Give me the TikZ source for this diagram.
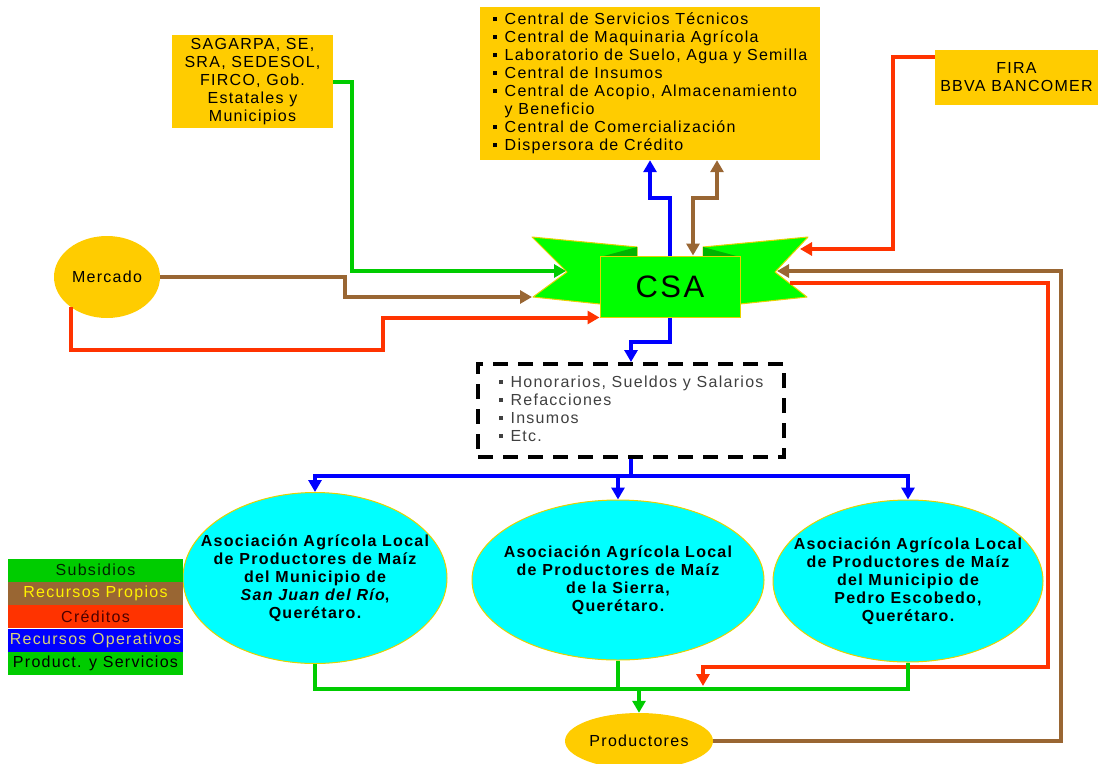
\documentclass[tikz,border=0pt]{standalone}
\usepackage{fontspec}
\setmainfont{Liberation Sans}[LetterSpace=8]
\usepackage{tikz}
\usetikzlibrary{arrows.meta, positioning, shapes.geometric}

\definecolor{gold}{HTML}{FFCC00}
\definecolor{csagreen}{HTML}{00FF00}
\definecolor{folddark}{HTML}{00B400}
\definecolor{edgeyellow}{HTML}{E6D200}
\definecolor{cyanfill}{HTML}{00FFFF}
\definecolor{flowgreen}{HTML}{00CC00}
\definecolor{flowbrown}{HTML}{996633}
\definecolor{flowred}{HTML}{FF3300}
\definecolor{flowblue}{HTML}{0000FF}
\newcommand{\sqb}{\rule[3pt]{4pt}{4pt}}

\begin{document}
\begin{tikzpicture}[
        x=1pt, y=-1pt,
        font=\fontsize{16}{18}\selectfont,
        ybox/.style={rectangle, fill=gold, inner sep=0pt, align=center},
        yoval/.style={ellipse, fill=gold, inner sep=0pt},
        asoc/.style={ellipse, fill=cyanfill, draw=edgeyellow, line width=1pt, inner xsep=-30pt, inner ysep=0pt,
                     align=center, font=\fontsize{16}{18}\selectfont\bfseries},
        legend/.style={rectangle, minimum width=175pt, minimum height=23pt, inner sep=0pt},
        flow/.style={line width=4pt},
        flowarrow/.style={flow, -{Triangle[length=12pt,width=13pt]}},
        wing/.style={fill=csagreen, draw=edgeyellow, line width=1pt, line join=round}
    ]
        \useasboundingbox (0,0) rectangle (1102,763);

        % fuentes de recursos
        \node[ybox, minimum width=161pt, minimum height=93pt] (sagarpa) at (252.5,81.5)
            {SAGARPA, SE,\\SRA, SEDESOL,\\FIRCO, Gob.\\Estatales y\\Municipios};
        \node[ybox, minimum width=340pt, minimum height=153pt] (central) at (650,83.5) {%
            \begin{tabular}{@{}l@{\hspace{8pt}}l@{}}
            \sqb & Central de Servicios Técnicos\\
            \sqb & Central de Maquinaria Agrícola\\
            \sqb & Laboratorio de Suelo, Agua y Semilla\\
            \sqb & Central de Insumos\\
            \sqb & Central de Acopio, Almacenamiento\\
                 & y Beneficio\\
            \sqb & Central de Comercialización\\
            \sqb & Dispersora de Crédito
            \end{tabular}};
        \node[ybox, minimum width=163pt, minimum height=55pt] (fira) at (1016.5,77.5) {FIRA\\BBVA BANCOMER};
        \node[yoval, minimum width=106pt, minimum height=82pt] (mercado) at (107,277) {Mercado};

        % CSA
        \draw[wing] (532,237) -- (637,247) -- (637,300) -- (600,304) -- (533,297) -- (567,272) -- cycle;
        \draw[wing] (808,237) -- (703,247) -- (703,300) -- (740,304) -- (807,297) -- (775,272) -- cycle;
        \fill[folddark] (600,257) -- (637,247) -- (637,257) -- cycle;
        \fill[folddark] (703,247) -- (740,257) -- (703,257) -- cycle;
        \node[rectangle, fill=csagreen, draw=edgeyellow, line width=1pt, minimum width=140pt,
              minimum height=61pt, font=\fontsize{31}{31}\selectfont] (csa) at (670,286.5) {CSA};
        \coordinate (lnotch) at (566,271);
        \coordinate (lbottom) at (532,297);
        \coordinate (rtop) at (800,249);
        \coordinate (rnotch) at (777,271);
        \coordinate (rout) at (790,283);

        \node[rectangle, draw=black, line width=4pt, dash pattern=on 15pt off 10pt,
              minimum width=306pt, minimum height=93pt, inner sep=0pt, text=black!75] (gastos) at (631,410.5) {%
            \begin{tabular}{@{}l@{\hspace{8pt}}l@{}}
            \sqb & Honorarios, Sueldos y Salarios\\
            \sqb & Refacciones\\
            \sqb & Insumos\\
            \sqb & Etc.
            \end{tabular}};

        % asociaciones locales
        \node[asoc, minimum width=264pt, minimum height=171pt] (sanjuan) at (315,578)
            {Asociación Agrícola Local\\de Productores de Maíz\\del Municipio de\\\textit{San Juan del Río},\\Querétaro.};
        \node[asoc, minimum width=292pt, minimum height=160pt] (sierra) at (618,580)
            {Asociación Agrícola Local\\de Productores de Maíz\\de la Sierra,\\Querétaro.};
        \node[asoc, minimum width=270pt, minimum height=162pt] (escobedo) at (908,581)
            {Asociación Agrícola Local\\de Productores de Maíz\\del Municipio de\\Pedro Escobedo,\\Querétaro.};
        \node[yoval, minimum width=148pt, minimum height=56pt] (productores) at (639,741) {Productores};
        \coordinate (gjoin) at (639,688);
        \coordinate (rin) at (703,686);

        % leyenda
        \node[legend, fill=flowgreen, text=black!85!green] (lsubs) at (95.5,570) {Subsidios};
        \node[legend, fill=flowbrown, text=yellow, below=0pt of lsubs] (lprop) {Recursos Propios};
        \node[legend, fill=flowred, text=black!70!red, below=0pt of lprop] (lcred) {Créditos};
        \node[legend, fill=flowblue, text=black!30!yellow!60!white, below=0pt of lcred] (loper) {Recursos Operativos};
        \node[legend, fill=flowgreen, text=black, below=0pt of loper] (lprod) {Product. y Servicios};

        % flujos
        \draw[flowarrow, flowgreen] (sagarpa.east) -- ++(19,0) |- (lnotch);
        \draw[flowarrow, flowbrown] (mercado.east) -- ++(185,0) |- (lbottom);
        \draw[flowarrow, flowred] (mercado.220) -- ++(0,43) -- ++(312,0) |- ([yshift=-31pt]csa.west);
        \draw[flowarrow, flowred] ([yshift=-7pt]fira.north west) -- ++(-42,0) |- (rtop);
        \draw[flowarrow, flowbrown] (productores.east) -- ++(348,0) |- (rnotch);
        \draw[flowarrow, flowred] (rout) -- ++(258,0) -- ++(0,384) -| (rin);

        \draw[flowarrow, flowblue] (csa.north) -- ++(0,-58) -| (central.south);
        \draw[flow, flowbrown, {Triangle[length=12pt,width=13pt]}-{Triangle[length=12pt,width=13pt]}]
            ([xshift=67pt]central.south) -- ++(0,38) -| ([xshift=23pt]csa.north);
        \draw[flowarrow, flowblue] (csa.south) -- ++(0,24) -| (gastos.north);
        \draw[flow, flowblue] (gastos.south) -- ++(0,17) coordinate (bjoin);
        \draw[flowarrow, flowblue] (bjoin) -| (sanjuan.north);
        \draw[flowarrow, flowblue] (bjoin) -| (sierra.north);
        \draw[flowarrow, flowblue] (bjoin) -| (escobedo.north);

        \draw[flow, flowgreen] (sanjuan.south) -- ++(0,25) -| (escobedo.south);
        \draw[flow, flowgreen] (sierra.south) -- (sierra.south |- gjoin);
        \draw[flowarrow, flowgreen] (gjoin) -- (productores.north);
\end{tikzpicture}
\end{document}
